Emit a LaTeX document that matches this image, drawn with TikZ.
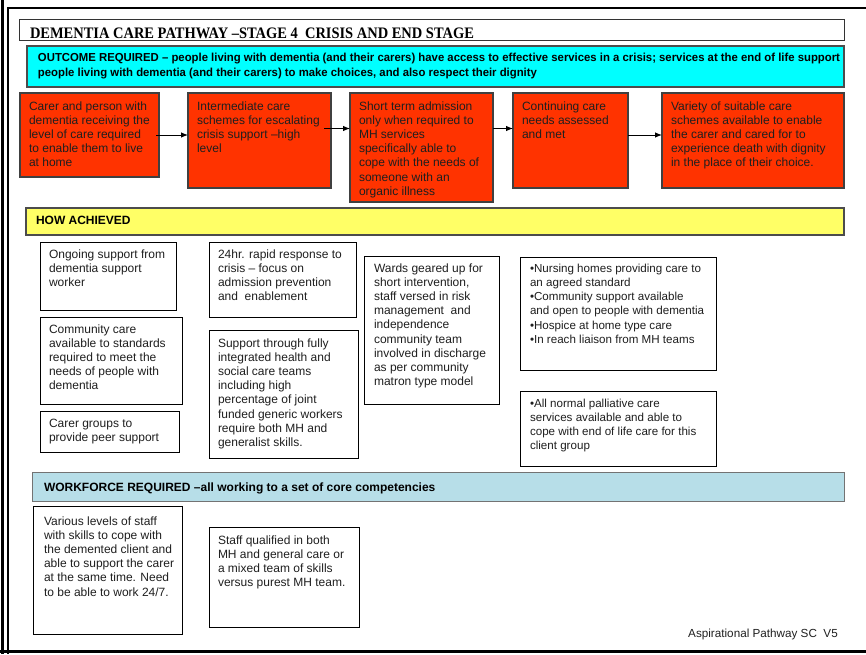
\documentclass[tikz,border=0pt]{standalone}
\usepackage{fontspec}
\setmainfont{Liberation Sans}
\newfontfamily\serifface{Liberation Serif}
\usepackage{graphicx}
\usetikzlibrary{arrows.meta}
\definecolor{redfill}{HTML}{FF3300}
\definecolor{cyanfill}{HTML}{00FFFF}
\definecolor{yellowfill}{HTML}{FFFF66}
\definecolor{wffill}{HTML}{B7DEE8}
\newsavebox\fitbox
\newcommand\tbox[9]{%
  \node[#6, anchor=north west, inner sep=0pt, outer sep=0pt] (#1) at (#2,#3)
  {\parbox[c][#5pt][t]{#4pt}{\vspace*{\dimexpr#7pt-\ht\strutbox\relax}\hspace*{#8pt}\parbox[t]{#4pt}{\raggedright\strut #9}}};}
\tikzset{
  body/.style={font=\fontsize{12}{14.2}\selectfont, text=black!88},
  redb/.style={body, draw=black!75, fill=redfill, line width=1.1pt},
  whiteb/.style={body, draw=black, fill=white, line width=0.9pt},
  smallb/.style={whiteb, font=\fontsize{11.6}{14.3}\selectfont},
  titleb/.style={draw=black!80, fill=white, line width=1pt, font=\serifface\bfseries\fontsize{16}{17}\selectfont},
  cyanb/.style={draw=black!70, fill=cyanfill, line width=1.1pt, font=\bfseries\fontsize{11.6}{15}\selectfont},
  yellowb/.style={draw=black!70, fill=yellowfill, line width=1.1pt, font=\bfseries\fontsize{12}{14}\selectfont},
  wfb/.style={draw=black!55, fill=wffill, line width=1pt, font=\bfseries\fontsize{12}{14}\selectfont},
  arr/.style={-{Latex[length=7pt,width=5.5pt]}, line width=0.9pt, black},
  frame/.style={black, line cap=butt}
}
\begin{document}
\begin{tikzpicture}[x=1pt, y=-1pt]
\useasboundingbox (0,0) rectangle (866,654);
% page frame
\draw[frame, line width=2.8pt] (2.5,0) -- (2.5,654);
\draw[frame, line width=2pt] (8,7) -- (8,654);
\draw[frame, line width=2.5pt] (7,8) -- (866,8);
\draw[frame, line width=3pt] (0,651.5) -- (866,651.5);
% title
\tbox{title}{19}{19}{825}{21}{titleb}{19}{11}{%
  \sbox\fitbox{DEMENTIA CARE PATHWAY –STAGE 4\ \ CRISIS AND END STAGE}%
  \pgfmathsetmacro\fitf{444/\the\wd\fitbox}\scalebox{\fitf}[1]{\usebox\fitbox}}
% outcome
\tbox{outcome}{27}{46}{817}{41}{cyanb}{15}{11}{%
  \sbox\fitbox{OUTCOME REQUIRED – people living with dementia (and their carers) have access to effective services in a crisis; services at the end of life support}%
  \pgfmathsetmacro\fitf{802/\the\wd\fitbox}\scalebox{\fitf}[1]{\usebox\fitbox}\\
  \scalebox{\fitf}[1]{people living with dementia (and their carers) to make choices, and also respect their dignity}}
% red boxes
\tbox{r1}{20}{93}{139}{84}{redb}{17}{9}{Carer and person with\\dementia receiving the\\level of care required\\to enable them to live\\at home}
\tbox{r2}{188}{93}{143}{95}{redb}{17}{9}{Intermediate care\\schemes for escalating\\crisis support –high\\level}
\tbox{r3}{350}{93}{143}{109}{redb}{17}{9}{Short term admission\\only when required to\\MH services\\specifically able to\\cope with the needs of\\someone with an\\organic illness}
\tbox{r4}{513}{93}{115}{95}{redb}{17}{9}{Continuing care\\needs assessed\\and met}
\tbox{r5}{662}{93}{182}{95}{redb}{17}{9}{Variety of suitable care\\schemes available to enable\\the carer and cared for to\\experience death with dignity\\in the place of their choice.}
\draw[arr] ([xshift=-3pt]r1.east) -- (r1.east -| r2.west);
\draw[arr] ([xshift=-7pt,yshift=12pt]r2.east) coordinate (a2) -- (a2 -| r3.west);
\draw[arr] (r3.east |- a2) -- (a2 -| r4.west);
\draw[arr] (r4.east |- r1.east) -- (r1.east -| r5.west);
% how achieved
\tbox{how}{26}{208}{818}{27}{yellowb}{16}{10}{HOW ACHIEVED}
\tbox{a1}{40}{242}{136}{68}{whiteb}{16}{9}{Ongoing support from\\dementia support\\worker}
\tbox{a2}{40}{317}{142}{87}{whiteb}{16}{9}{Community care\\available to standards\\required to meet the\\needs of people with\\dementia}
\tbox{a3}{40}{411}{139}{41}{whiteb}{16}{9}{Carer groups to\\provide peer support}
\tbox{b1}{209}{242}{147}{75}{whiteb}{16}{9}{24hr. rapid response to\\crisis – focus on\\admission prevention\\and\ \ enablement}
\tbox{b2}{209}{330}{149}{128}{whiteb}{17}{9}{Support through fully\\integrated health and\\social care teams\\including high\\percentage of joint\\funded generic workers\\require both MH and\\generalist skills.}
\tbox{c1}{364}{256}{135}{148}{whiteb}{16}{10}{Wards geared up for\\short intervention,\\staff versed in risk\\management\ \ and\\independence\\community team\\involved in discharge\\as per community\\matron type model}
\tbox{d1}{520}{257}{196}{113}{smallb}{15}{10}{•Nursing homes providing care to\\an agreed standard\\•Community support available\\and open to people with dementia\\•Hospice at home type care\\•In reach liaison from MH teams}
\tbox{d2}{520}{391}{196}{75}{smallb}{16}{10}{•All normal palliative care\\services available and able to\\cope with end of life care for this\\client group}
% workforce
\tbox{wf}{32}{472}{812}{29}{wfb}{19}{12}{WORKFORCE REQUIRED –all working to a set of core competencies}
\tbox{w1}{33}{506}{149}{128}{whiteb}{19}{11}{Various levels of staff\\with skills to cope with\\the demented client and\\able to support the carer\\at the same time. Need\\to be able to work 24/7.}
\tbox{w2}{209}{527}{150}{100}{whiteb}{17}{9}{Staff qualified in both\\MH and general care or\\a mixed team of skills\\versus purest MH team.}
% footer
\node[anchor=base east, inner sep=0pt, font=\fontsize{11.7}{14}\selectfont, text=black!88] (foot) at (838,637) {Aspirational Pathway SC\ \ V5};
\end{tikzpicture}
\end{document}
